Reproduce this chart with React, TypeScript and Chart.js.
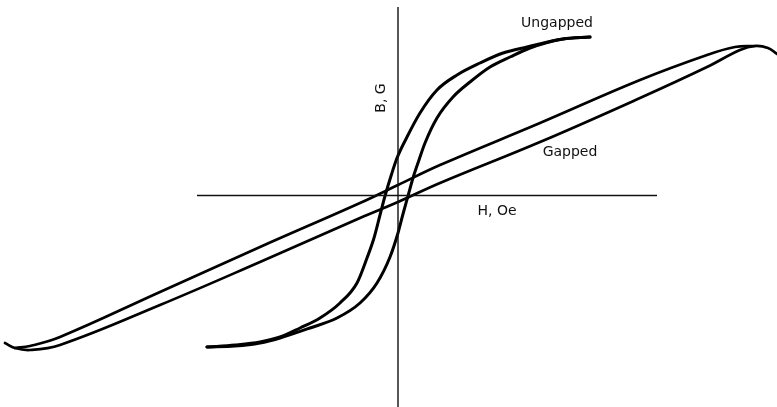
import React, { useEffect, useRef } from "react";
import { Chart, registerables } from "chart.js";

Chart.register(...registerables);

// H (Oe, arbitrary units) and B (G, arbitrary units)
const ungappedDescH = [19.2, 16.5, 12.9, 10.5, 8.2, 5.9, 3.9, 2.2, 0.9, -0.1, -0.7, -1.3, -1.8, -2.4, -3.1, -4.1, -5.8, -7.8, -9.8, -11.8, -13.8, -16.3, -19.1];
const ungappedDescB = [15.85, 15.65, 14.85, 14.25, 13.25, 12.05, 10.55, 8.25, 5.85, 3.75, 1.95, -0.05, -1.95, -4.25, -6.25, -8.75, -10.75, -12.25, -13.25, -14.15, -14.65, -14.95, -15.15];

const ungappedAscH = [-19.1, -16.3, -13.8, -11.8, -8.8, -6.1, -3.8, -2.1, -0.8, 0, 0.5, 1.0, 1.5, 2.1, 2.7, 3.9, 5.5, 7.2, 9.2, 11.2, 13.2, 16.5, 19.2];
const ungappedAscB = [-15.15, -15.05, -14.75, -14.25, -13.25, -12.25, -10.75, -8.75, -6.15, -3.75, -1.85, -0.05, 1.75, 3.55, 5.25, 7.75, 9.85, 11.35, 12.85, 13.85, 14.75, 15.65, 15.85];

const gappedAscH = [-39.3, -38.3, -36.8, -33.8, -23.8, -13.8, -3.8, 0, 4.2, 14.2, 24.2, 30.9, 34.2, 35.7, 37.0, 37.9];
const gappedAscB = [-14.75, -15.25, -15.45, -14.95, -10.95, -6.65, -2.25, -0.65, 1.25, 5.35, 9.75, 12.85, 14.55, 14.95, 14.75, 14.15];

const gappedDescH = [35.7, 33.7, 30.9, 24.2, 14.2, 4.2, 0, -3.8, -13.8, -23.8, -33.8, -36.8, -38.3];
const gappedDescB = [14.95, 14.85, 14.05, 11.55, 7.25, 3.05, 1.05, -0.75, -5.15, -9.65, -14.15, -15.05, -15.25];

// axis extents
const hAxisH = [-20.1, 25.9];
const hAxisB = [0, 0];
const bAxisH = [0, 0];
const bAxisB = [18.85, -21.15];

// labels
const labelTexts = ["Ungapped", "Gapped", "H, Oe", "B, G"];
const labelH = [15.9, 17.2, 9.9, -1.7];
const labelB = [17.25, 4.35, -1.55, 9.75];
const labelRot = [0, 0, 0, -90];

const H_MIN = -39.8;
const H_MAX = 37.9;
const B_MIN = -21.15;
const B_MAX = 19.55;

const pts = (xs: number[], ys: number[]) => xs.map((x, i) => ({ x, y: ys[i] }));

export default function App() {
  const ref = useRef<HTMLCanvasElement | null>(null);

  useEffect(() => {
    if (!ref.current) return;
    const curve = (data: { x: number; y: number }[], w: number, monotone: boolean) => ({
      data,
      showLine: true,
      borderColor: "#000",
      borderWidth: w,
      pointRadius: 0,
      tension: 0.4,
      cubicInterpolationMode: monotone ? "monotone" : "default",
      fill: false,
      clip: false as any,
      borderCapStyle: "round" as const,
      borderJoinStyle: "round" as const,
    });
    const axis = (data: { x: number; y: number }[]) => ({
      data,
      showLine: true,
      borderColor: "#111",
      borderWidth: 1.4,
      pointRadius: 0,
      tension: 0,
      fill: false,
      clip: false as any,
    });

    const labelPlugin = {
      id: "labels",
      afterDatasetsDraw(chart: any) {
        const ctx = chart.ctx;
        const xs = chart.scales.x;
        const ys = chart.scales.y;
        ctx.save();
        ctx.fillStyle = "#111";
        ctx.font = "14px 'DejaVu Sans', sans-serif";
        ctx.textAlign = "center";
        ctx.textBaseline = "middle";
        labelTexts.forEach((t, i) => {
          const px = xs.getPixelForValue(labelH[i]);
          const py = ys.getPixelForValue(labelB[i]);
          ctx.save();
          ctx.translate(px, py);
          ctx.rotate((labelRot[i] * Math.PI) / 180);
          ctx.fillText(t, 0, 0);
          ctx.restore();
        });
        ctx.restore();
      },
    };

    const chart = new Chart(ref.current, {
      type: "scatter",
      data: {
        datasets: [
          axis(pts(hAxisH, hAxisB)),
          axis(pts(bAxisH, bAxisB)),
          curve(pts(ungappedDescH, ungappedDescB), 3, true),
          curve(pts(ungappedAscH, ungappedAscB), 3, true),
          curve(pts(gappedAscH, gappedAscB), 2.7, false),
          curve(pts(gappedDescH, gappedDescB), 2.7, false),
        ] as any,
      },
      options: {
        animation: false,
        responsive: false,
        devicePixelRatio: 1,
        layout: { padding: 0 },
        plugins: { legend: { display: false }, tooltip: { enabled: false } },
        events: [],
        scales: {
          x: { type: "linear", min: H_MIN, max: H_MAX, display: false },
          y: { type: "linear", min: B_MIN, max: B_MAX, display: false },
        },
      },
      plugins: [labelPlugin],
    });
    return () => chart.destroy();
  }, []);

  return (
    <div style={{ position: "absolute", left: 0, top: 0, width: 777, height: 407, background: "#fff" }}>
      <canvas ref={ref} width={777} height={407} style={{ display: "block" }} />
    </div>
  );
}
